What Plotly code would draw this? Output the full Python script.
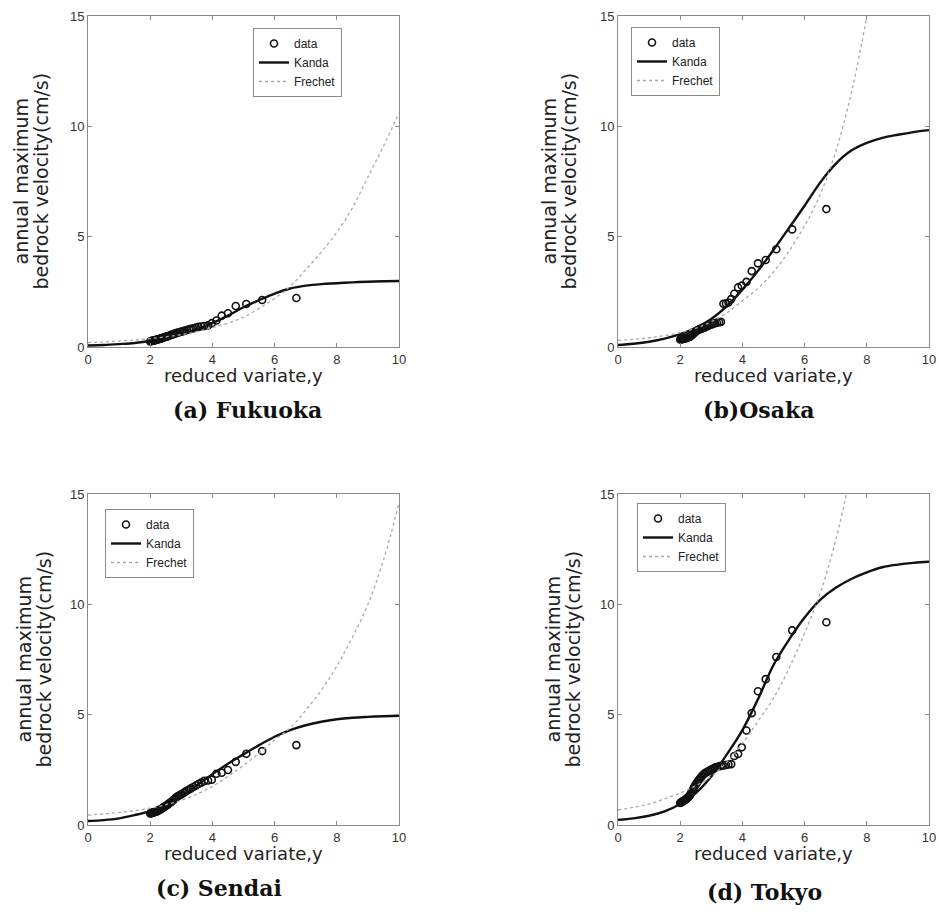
import plotly.graph_objects as go

W, H = 939, 915

# reduced variate of the plotted data (shared by all sites)
y_red = [6.70, 5.60, 5.09, 4.75, 4.50, 4.30, 4.13, 3.98, 3.86, 3.74,
         3.64, 3.55, 3.47, 3.39, 3.31, 3.25, 3.18, 3.12, 3.07, 3.01,
         2.96, 2.91, 2.86, 2.82, 2.78, 2.74, 2.70, 2.66, 2.62, 2.58,
         2.55, 2.52, 2.48, 2.45, 2.42, 2.39, 2.36, 2.33, 2.31, 2.28,
         2.25, 2.23, 2.20, 2.18, 2.15, 2.13, 2.10, 2.08, 2.06, 2.04,
         2.02, 2.00]

fukuoka_data = [2.22, 2.13, 1.95, 1.86, 1.53, 1.42, 1.20, 1.08, 0.98, 0.95,
                0.93, 0.91, 0.88, 0.85, 0.82, 0.80, 0.77, 0.74, 0.72, 0.70,
                0.68, 0.66, 0.64, 0.62, 0.60, 0.58, 0.56, 0.54, 0.52, 0.50,
                0.48, 0.47, 0.45, 0.44, 0.42, 0.41, 0.39, 0.38, 0.37, 0.36,
                0.35, 0.34, 0.33, 0.32, 0.31, 0.30, 0.29, 0.28, 0.28, 0.27,
                0.26, 0.25]
osaka_data = [6.25, 5.33, 4.43, 3.94, 3.79, 3.44, 2.95, 2.78, 2.70, 2.41,
              2.17, 2.02, 1.97, 1.96, 1.14, 1.12, 1.10, 1.08, 1.05, 1.02,
              1.00, 0.97, 0.94, 0.91, 0.88, 0.86, 0.84, 0.82, 0.80, 0.78,
              0.75, 0.72, 0.68, 0.64, 0.60, 0.56, 0.52, 0.49, 0.47, 0.45,
              0.43, 0.42, 0.41, 0.40, 0.39, 0.38, 0.37, 0.36, 0.36, 0.35,
              0.35, 0.34]
sendai_data = [3.62, 3.35, 3.23, 2.86, 2.49, 2.37, 2.32, 2.05, 2.02, 2.00,
               1.92, 1.86, 1.79, 1.72, 1.66, 1.61, 1.55, 1.50, 1.45, 1.40,
               1.36, 1.32, 1.28, 1.23, 1.18, 1.13, 1.08, 1.03, 0.99, 0.95,
               0.91, 0.88, 0.85, 0.82, 0.79, 0.76, 0.73, 0.71, 0.69, 0.67,
               0.65, 0.63, 0.61, 0.60, 0.59, 0.58, 0.57, 0.56, 0.55, 0.54,
               0.53, 0.52]
tokyo_data = [9.19, 8.82, 7.61, 6.61, 6.06, 5.07, 4.28, 3.52, 3.22, 3.13,
              2.76, 2.74, 2.72, 2.70, 2.68, 2.66, 2.63, 2.60, 2.56, 2.52,
              2.48, 2.44, 2.40, 2.37, 2.33, 2.28, 2.22, 2.15, 2.08, 2.02,
              1.95, 1.88, 1.80, 1.72, 1.63, 1.55, 1.47, 1.40, 1.34, 1.29,
              1.25, 1.22, 1.19, 1.16, 1.13, 1.11, 1.09, 1.07, 1.05, 1.03,
              1.02, 1.00]

# fitted curves, sampled on the reduced variate
curve_x = [0, 0.5, 1, 1.5, 2, 2.5, 3, 3.5, 4, 4.5, 5,
           5.5, 6, 6.5, 7, 7.5, 8, 8.5, 9, 9.5, 10]

fukuoka_kanda = [0.07, 0.09, 0.13, 0.18, 0.27, 0.40, 0.57, 0.80, 1.08, 1.42, 1.80,
                 2.12, 2.42, 2.65, 2.78, 2.85, 2.89, 2.93, 2.96, 2.98, 2.99]
fukuoka_frechet = [0.20, 0.23, 0.27, 0.32, 0.38, 0.46, 0.56, 0.70, 0.88, 1.08, 1.35,
                   1.75, 2.20, 2.75, 3.50, 4.30, 5.20, 6.30, 7.70, 9.10, 10.60]
osaka_kanda = [0.09, 0.15, 0.24, 0.38, 0.58, 0.87, 1.27, 1.85, 2.60, 3.45, 4.40,
               5.40, 6.40, 7.45, 8.30, 8.90, 9.25, 9.48, 9.62, 9.74, 9.83]
osaka_frechet = [0.30, 0.35, 0.42, 0.52, 0.65, 0.85, 1.15, 1.55, 2.10, 2.65, 3.40,
                 4.35, 5.50, 6.90, 8.85, 11.5, 15.0, 19.5, None, None, None]
sendai_kanda = [0.18, 0.22, 0.30, 0.45, 0.63, 0.90, 1.30, 1.80, 2.30, 2.78, 3.20,
                3.62, 4.00, 4.30, 4.52, 4.68, 4.79, 4.86, 4.90, 4.93, 4.95]
sendai_frechet = [0.45, 0.50, 0.57, 0.65, 0.76, 0.92, 1.12, 1.40, 1.75, 2.20, 2.70,
                  3.25, 3.85, 4.40, 5.20, 6.10, 7.20, 8.50, 10.0, 12.0, 14.6]
tokyo_kanda = [0.23, 0.30, 0.42, 0.62, 0.95, 1.45, 2.20, 3.20, 4.30, 5.70, 7.25,
               8.40, 9.40, 10.20, 10.75, 11.15, 11.45, 11.68, 11.80, 11.88, 11.93]
tokyo_frechet = [0.68, 0.80, 0.95, 1.18, 1.45, 1.78, 2.20, 2.85, 3.70, 4.70, 5.75,
                 7.10, 8.70, 10.50, 12.90, 16.0, None, None, None, None, None]

panel_titles = ["(a) Fukuoka", "(b)Osaka", "(c) Sendai", "(d) Tokyo"]
series_names = ["data", "Kanda", "Frechet"]
x_title = "reduced variate,y"
y_title_lines = ["annual maximum", "bedrock velocity(cm/s)"]
x_ticks = [0, 2, 4, 6, 8, 10]
y_ticks = [0, 5, 10, 15]

panels = [
    dict(data=fukuoka_data, kanda=fukuoka_kanda, frechet=fukuoka_frechet,
         px=(88, 399), py=(16, 347), legend=(253, 28), title=(247, 410), ytit=(21, 41)),
    dict(data=osaka_data, kanda=osaka_kanda, frechet=osaka_frechet,
         px=(618, 929), py=(16, 347), legend=(631, 27), title=(759, 410), ytit=(549, 569)),
    dict(data=sendai_data, kanda=sendai_kanda, frechet=sendai_frechet,
         px=(88, 399), py=(494, 825), legend=(105, 509), title=(219, 888), ytit=(23, 43)),
    dict(data=tokyo_data, kanda=tokyo_kanda, frechet=tokyo_frechet,
         px=(618, 929), py=(494, 825), legend=(637, 503), title=(764, 892), ytit=(552, 572)),
]

fig = go.Figure()
annotations = []
layout = {}
tick_font = dict(family="Liberation Sans, Arial, sans-serif", size=13, color="#333")
label_font = dict(family="DejaVu Sans, sans-serif", size=18, color="#222")

for k, p in enumerate(panels):
    n = "" if k == 0 else str(k + 1)
    xa, ya = "x" + n, "y" + n
    leg = "legend" + n
    fig.add_trace(go.Scatter(x=y_red, y=p["data"], mode="markers", name=series_names[0],
                             xaxis=xa, yaxis=ya, legend=leg,
                             marker=dict(symbol="circle-open", size=7, color="#111",
                                         line=dict(width=1.6, color="#111"))))
    fig.add_trace(go.Scatter(x=curve_x, y=p["kanda"], mode="lines", name=series_names[1],
                             xaxis=xa, yaxis=ya, legend=leg,
                             line=dict(color="#111", width=2.4, shape="spline")))
    fig.add_trace(go.Scatter(x=curve_x, y=p["frechet"], mode="lines", name=series_names[2],
                             xaxis=xa, yaxis=ya, legend=leg,
                             line=dict(color="#a8a8a8", width=1.3, dash="dot", shape="spline")))
    x0, x1 = p["px"]
    y0, y1 = p["py"]
    axis_common = dict(showline=True, linecolor="#8a8a8a", linewidth=1, mirror="ticks",
                       ticks="inside", ticklen=4, tickcolor="#8a8a8a", showgrid=False,
                       zeroline=False, tickfont=tick_font, automargin=False)
    layout["xaxis" + n] = dict(domain=[x0 / W, x1 / W], range=[0, 10], tickvals=x_ticks,
                               anchor=ya, **axis_common)
    layout["yaxis" + n] = dict(domain=[1 - y1 / H, 1 - y0 / H], range=[0, 15], tickvals=y_ticks,
                               anchor=xa, **axis_common)
    lx, ly = p["legend"]
    layout[leg] = dict(x=lx / W, y=1 - ly / H, xanchor="left", yanchor="top",
                       bgcolor="white", bordercolor="#8a8a8a", borderwidth=1,
                       font=dict(family="Liberation Sans, Arial, sans-serif", size=12, color="#222"),
                       tracegroupgap=0, itemwidth=30)
    # axis titles
    annotations.append(dict(text=x_title, xref="paper", yref="paper",
                            x=(x0 + x1) / 2 / W, y=1 - (y1 + 28) / H,
                            xanchor="center", yanchor="middle", showarrow=False, font=label_font))
    for line_txt, cx in zip(y_title_lines, p["ytit"]):
        annotations.append(dict(text=line_txt, xref="paper", yref="paper",
                                x=cx / W, y=1 - (y0 + y1) / 2 / H, textangle=-90,
                                xanchor="center", yanchor="middle", showarrow=False,
                                font=dict(family="DejaVu Sans, sans-serif", size=19, color="#222")))
    tx, ty = p["title"]
    annotations.append(dict(text="<b>" + panel_titles[k] + "</b>", xref="paper", yref="paper",
                            x=tx / W, y=1 - ty / H, xanchor="center", yanchor="middle",
                            showarrow=False,
                            font=dict(family="DejaVu Serif, serif", size=22, color="#111")))

fig.update_layout(width=W, height=H, margin=dict(l=0, r=0, t=0, b=0, pad=0, autoexpand=False),
                  paper_bgcolor="white", plot_bgcolor="white", showlegend=True,
                  annotations=annotations, **layout)

fig.write_html("out.html", config={"displayModeBar": False})

# remove the default page margin so the figure sits at the window's origin
with open("out.html", encoding="utf-8") as f:
    html = f.read()
html = html.replace("<head>", "<head><style>html,body{margin:0;padding:0;overflow:hidden}</style>", 1)
with open("out.html", "w", encoding="utf-8") as f:
    f.write(html)
